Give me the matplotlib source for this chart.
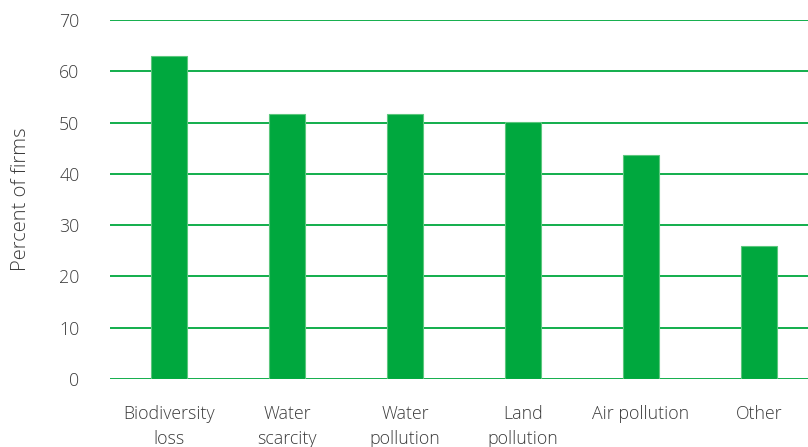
import matplotlib
matplotlib.use("Agg")
import matplotlib.pyplot as plt
import numpy as np

# data
categories = ["Biodiversity\nloss", "Water\nscarcity", "Water\npollution",
              "Land\npollution", "Air pollution", "Other"]
percent = [63.0, 51.6, 51.6, 50.1, 43.6, 25.9]
yticks = [0, 10, 20, 30, 40, 50, 60, 70]

green = "#00a83e"
text_col = "#3c3c3c"

plt.rcParams['font.family'] = ['Open Sans', 'DejaVu Sans']

fig = plt.figure(figsize=(8.08, 4.47), dpi=100)
ax = fig.add_axes([0.1361, 0.1521, 0.8639, 0.8032])

x = np.arange(len(categories))
ax.bar(x, percent, width=0.305, color=green, edgecolor="#5cc77e",
       linewidth=0.8, zorder=3)

ax.set_ylim(0, 70)
ax.set_xlim(-0.5, 5.415)
ax.set_yticks(yticks)
ax.set_yticklabels([str(v) for v in yticks])
ax.set_xticks(x)
ax.set_xticklabels(categories, linespacing=1.5)

ax.yaxis.grid(True, color=green, linewidth=1.3, zorder=0)
ax.set_axisbelow(True)
for s in ax.spines.values():
    s.set_visible(False)
ax.tick_params(axis='both', length=0, labelsize=12.8, labelcolor=text_col)
ax.tick_params(axis='y', pad=22)
ax.tick_params(axis='x', pad=19)
for lbl in ax.get_xticklabels() + ax.get_yticklabels():
    lbl.set_fontweight('light')

ax.set_ylabel("Percent of firms", fontsize=14.5, color=text_col,
              fontweight='light', labelpad=20)

fig.savefig("out.png", dpi=100)
